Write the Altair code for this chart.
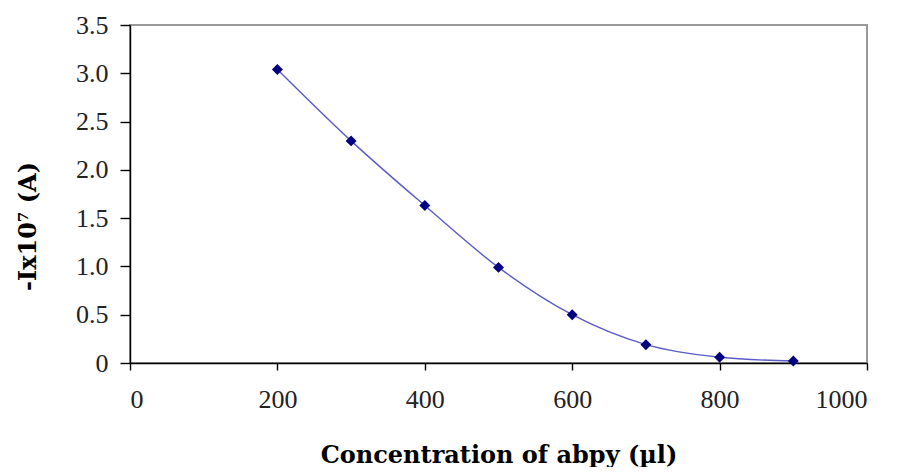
import altair as alt
import pandas as pd

conc = [200, 300, 400, 500, 600, 700, 800, 900]
current = [3.04, 2.30, 1.63, 0.99, 0.50, 0.19, 0.06, 0.02]
x_ticks = [0, 200, 400, 600, 800, 1000]
y_ticks = [0, 0.5, 1.0, 1.5, 2.0, 2.5, 3.0, 3.5]

df = pd.DataFrame({"conc": conc, "current": current})

LF = "Liberation Serif"
TF = "DejaVu Serif"

x = alt.X("conc:Q", scale=alt.Scale(domain=[0, 1000], nice=False),
          axis=alt.Axis(values=x_ticks, format="d", title="Concentration of abpy (µl)",
                        labelFont=LF, labelFontSize=26, labelColor="#222222",
                        titleFont=TF, titleFontSize=24, titleFontWeight="bold", titleColor="black",
                        titlePadding=31, labelPadding=16, tickSize=7,
                        domainColor="black", tickColor="black", grid=False))
y = alt.Y("current:Q", scale=alt.Scale(domain=[0, 3.5], nice=False),
          axis=alt.Axis(values=y_ticks,
                        labelExpr="datum.value == 0 ? '0' : format(datum.value, '.1f')",
                        title="-Ix10⁷ (A)",
                        labelFont=LF, labelFontSize=26, labelColor="#222222",
                        titleFont=TF, titleFontSize=24, titleFontWeight="bold", titleColor="black",
                        titleX=-102, titleY=201, titleAlign="center", titleBaseline="middle",
                        titleAngle=270,
                        labelPadding=12, tickSize=10,
                        domainColor="black", tickColor="black", grid=False))

line = alt.Chart(df).mark_line(color="#5a5ac8", strokeWidth=1.4, interpolate="monotone").encode(x=x, y=y)
pts = alt.Chart(df).mark_point(shape="diamond", filled=True, color="#000080", size=120, opacity=1).encode(x=x, y=y)

chart = (line + pts).properties(
    width=737, height=338,
    autosize=alt.AutoSizeParams(type="none"),
    padding={"left": 122, "top": 17, "right": 22, "bottom": 104},
).configure_view(
    stroke="#999999", strokeWidth=2
).configure_axis(
    domainWidth=1.4, tickWidth=1.4,
)

chart.save("out.html", embed_options={"renderer": "svg", "actions": False})
